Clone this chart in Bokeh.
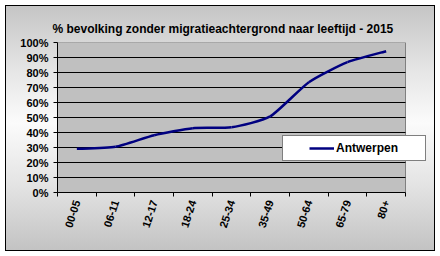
import numpy as np
from bokeh.plotting import figure
from bokeh.models import (FixedTicker, Legend, LegendItem, Range1d,
                          CustomJSTickFormatter, Title)
from bokeh.embed import file_html
from bokeh.resources import INLINE

categories = ["00-05", "06-11", "12-17", "18-24", "25-34",
              "35-49", "50-64", "65-79", "80+"]
antwerpen = [29.1, 30.5, 38.2, 42.9, 43.5, 50.7, 73.5, 86.9, 94.2]
y_ticks = [0, 10, 20, 30, 40, 50, 60, 70, 80, 90, 100]
series_name = "Antwerpen"
chart_title = "% bevolking zonder migratieachtergrond naar leeftijd - 2015"

FONT = "Liberation Sans"
ncat = len(categories)
# plot area spans 9 categories (348 px); the frame is extended to the right
# so the legend box (which overhangs the plot area) is not clipped
x_end = ncat * (430 - 57) / 348.0

p = figure(width=440, height=256, output_backend="svg", toolbar_location=None,
           x_range=Range1d(0, x_end), y_range=Range1d(0, 100),
           min_border_left=57, min_border_right=10, min_border_top=42,
           min_border_bottom=64)
t = Title(text=chart_title, align="left", offset=-5,
          text_font=FONT, text_font_size="12px", text_font_style="bold",
          text_color="black", standoff=14)
p.add_layout(t, "above")

p.border_fill_alpha = 0
p.background_fill_alpha = 0
p.outline_line_color = None
p.styles = {
    "background": "linear-gradient(to bottom, #c2c2c2 0%, #e6e6e6 28%, #fbfbfb 48%, #e4e4e4 72%, #c0c0c0 100%)",
    "box-shadow": "inset 0 0 0 5px white, inset 0 0 0 6px black",
}
p.xgrid.visible = False
p.ygrid.visible = False

# plot area (grey) with its thin outline
p.quad(left=[0], right=[ncat], bottom=[y_ticks[0]], top=[y_ticks[-1]],
       fill_color="#C0C0C0", fill_alpha=1, line_color="#808080", line_width=1)

# horizontal gridlines limited to the plot area
grid_y = y_ticks[1:-1]
p.segment(x0=[0] * len(grid_y), x1=[ncat] * len(grid_y), y0=grid_y, y1=grid_y,
          line_color="black", line_width=1)

# x axis: labels at category centres, tick marks at boundaries
xs = np.arange(ncat) + 0.5
p.xaxis.ticker = FixedTicker(ticks=list(xs), minor_ticks=list(range(ncat + 1)))
p.xaxis.formatter = CustomJSTickFormatter(args=dict(labels=categories),
                                          code="return labels[Math.floor(tick)]")
p.xaxis.bounds = (0, ncat)
p.xaxis.major_tick_out = 0
p.xaxis.major_tick_in = 0
p.xaxis.minor_tick_out = 4
p.xaxis.minor_tick_in = 0
p.xaxis.major_label_orientation = 72 * np.pi / 180
p.xaxis.major_label_standoff = 4

p.yaxis.ticker = FixedTicker(ticks=y_ticks)
p.yaxis.formatter = CustomJSTickFormatter(code="return tick.toFixed(0) + '%'")
p.yaxis.major_tick_out = 4
p.yaxis.major_tick_in = 0
p.yaxis.minor_tick_out = 0
p.yaxis.minor_tick_in = 0
p.yaxis.major_label_standoff = 5

for ax in (p.xaxis, p.yaxis):
    ax.axis_line_color = "black"
    ax.major_tick_line_color = "black"
    ax.minor_tick_line_color = "black"
    ax.major_label_text_font = FONT
    ax.major_label_text_font_size = "11px"
    ax.major_label_text_font_style = "bold"
    ax.major_label_text_color = "black"

# lightly smoothed line (Catmull-Rom style cubic Bezier segments)
k = 10.0
ys = np.array(antwerpen, dtype=float)
px = np.concatenate([[xs[0]], xs, [xs[-1]]])
py = np.concatenate([[ys[0]], ys, [ys[-1]]])
n = len(xs)
x0 = xs[:-1]; y0 = ys[:-1]; x1 = xs[1:]; y1 = ys[1:]
cx0 = x0 + (px[2:n + 1] - px[0:n - 1]) / k
cy0 = y0 + (py[2:n + 1] - py[0:n - 1]) / k
cx1 = x1 - (px[3:n + 2] - px[1:n]) / k
cy1 = y1 - (py[3:n + 2] - py[1:n]) / k
r = p.bezier(x0=x0, y0=y0, x1=x1, y1=y1, cx0=cx0, cy0=cy0, cx1=cx1, cy1=cy1,
             line_color="#000080", line_width=2.5)

legend = Legend(items=[LegendItem(label=series_name, renderers=[r])],
                location=(225, 31), padding=2, label_height=20, glyph_height=20,
                glyph_width=25, label_standoff=2, label_width=87,
                title=".", title_location="left", title_text_font_size="16px",
                title_text_alpha=0, title_standoff=6,
                border_line_color="black", border_line_width=1,
                background_fill_color="white", background_fill_alpha=1,
                label_text_font=FONT, label_text_font_size="12px",
                label_text_font_style="bold", label_text_color="black")
p.add_layout(legend)

open("out.html", "w").write(file_html(p, INLINE))
